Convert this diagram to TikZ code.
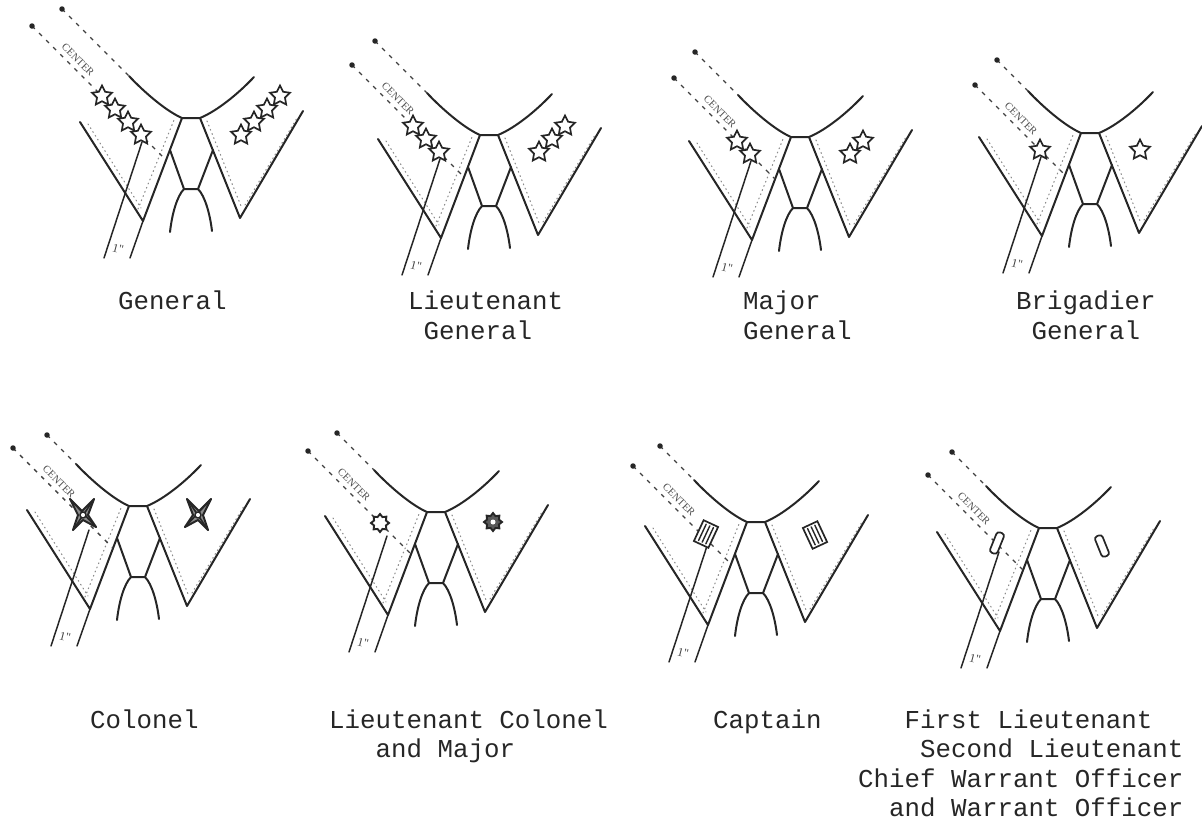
\documentclass[tikz,border=0pt]{standalone}
\usepackage{fontspec}
\setmonofont{Liberation Mono}
\newfontfamily\ctrfont{Liberation Serif}
\usetikzlibrary{shapes.geometric}
\tikzset{
  ln/.style={line width=2pt, draw=black!85, line cap=round, line join=round},
  thinln/.style={line width=1.5pt, draw=black!85, line cap=round},
  dsh/.style={line width=1.4pt, draw=black!75, dash pattern=on 4pt off 6pt},
  stitch/.style={line width=1.1pt, draw=black!45, dash pattern=on 0.9pt off 3.6pt, line cap=round},
  endpt/.style={circle, fill=black!85, inner sep=0pt, minimum size=5.5pt},
  ctr/.style={font=\ctrfont\fontsize{10.5}{10.5}\selectfont, rotate=-45, text=black!70, inner sep=0.5pt},
  inch/.style={font=\ctrfont\fontsize{12}{12}\selectfont, text=black!75, inner sep=0.5pt, rotate=-15},
  lbl/.style={font=\ttfamily\fontsize{25.8}{29.5}\selectfont, anchor=base west, inner sep=0pt, text=black!85},
  starins/.style={star, star points=5, star point ratio=2.0, draw=black!85, line width=1.7pt, fill=white, minimum size=21pt, inner sep=0pt},
  oakins/.style={star, star points=8, star point ratio=1.4, draw=black!85, line width=1.9pt, minimum size=18pt, inner sep=0pt},
  barsins/.style={rectangle, draw=black!85, line width=1.7pt, fill=white, minimum width=16pt, minimum height=23pt, inner sep=0pt},
  barins/.style={rectangle, rounded corners=3pt, draw=black!85, line width=1.7pt, fill=white, minimum width=8pt, minimum height=22pt, inner sep=0pt}
}
% #1 prefix, #2 length of upper dashed line, #3 length of centre line
\newcommand\inscollar[3]{%
  \coordinate (#1ls) at (-62,-42);
  \coordinate (#1ud) at ({-62-#2},{-42-#2});
  \coordinate (#1ce) at (-25,42);
  \coordinate (#1cd) at ({-25-#3},{42-#3});
  \coordinate (#1kl) at (-9,0);
  \coordinate (#1kr) at (9,0);
  \coordinate (#1vl) at (-48,103);
  \coordinate (#1vr) at (49,100);
  % stitching
  \draw[stitch] (-103,6) -- (-50,90);
  \draw[stitch] (-53,91) -- (-17,2);
  \draw[stitch] (16,3) -- (50,88);
  \draw[stitch] (54,87) -- (106,0);
  % neck line
  \draw[ln] (#1ls) .. controls (-47,-26) and (-25,-7) .. (#1kl) -- (#1kr) .. controls (26,-7) and (47,-24) .. (63,-41);
  % lapels
  \draw[ln] (-111,4) -- (#1vl) -- (#1kl);
  \draw[ln] (#1kr) -- (#1vr) -- (112,-7);
  % shirt collar and tie
  \draw[ln] (-21,32) -- (-7,71) -- (7,71) -- (22,32);
  \draw[ln] (-7,71) .. controls (-14,78) and (-19,96) .. (-21,114);
  \draw[ln] (7,71) .. controls (14,78) and (19,96) .. (21,113);
  % dashed guide lines
  \draw[dsh] (#1ud) -- (#1ls);
  \node[endpt] (#1du) at (#1ud) {};
  \draw[dsh] (#1cd) -- (#1ce);
  \node[endpt] (#1dc) at (#1cd) {};
  \node[ctr] (#1ctr) at ({-25-#3+46},{42-#3+34}) {CENTER};
  % one inch measurement
  \draw[thinln] (#1vl) -- (-61,140);
  \draw[thinln] (-49,24) -- (-87,140);
  \node[inch] (#1inch) at (-73,131) {1"};
}
\newcommand\insstars[2]{%
  \foreach \i in {1,...,#2} {
    \node[starins] (#1sl\i) at ({-50-13*(\i-1)},{17-13*(\i-1)}) {};
    \node[starins] (#1sr\i) at ({50+13*(\i-1)},{17-13*(\i-1)}) {};
  }
}
\newcommand\inseagleshape{%
  \draw[ln, line width=2pt, fill=black!45] (-13,-15) -- (-1,-3) -- (11,-15) -- (5,1) -- (13,13) -- (0,6) -- (-10,16) -- (-5,1) -- cycle;
  \draw[ln, line width=1.6pt] (-13,-15) -- (13,13) (11,-15) -- (-10,16);
  \draw[ln, line width=1.4pt, fill=white] (0,1) circle (3);
}
\begin{document}
\begin{tikzpicture}[x=1pt, y=-1pt]
\useasboundingbox (0,0) rectangle (1202,823);

% ---------- General ----------
\begin{scope}[shift={(191,118)}]
  \inscollar{a}{67}{134}
  \insstars{a}{4}
\end{scope}
% ---------- Lieutenant General ----------
\begin{scope}[shift={(489,135)}]
  \inscollar{b}{52}{112}
  \insstars{b}{3}
\end{scope}
% ---------- Major General ----------
\begin{scope}[shift={(800,137)}]
  \inscollar{c}{43}{101}
  \insstars{c}{2}
\end{scope}
% ---------- Brigadier General ----------
\begin{scope}[shift={(1090,133)}]
  \inscollar{d}{31}{90}
  \insstars{d}{1}
\end{scope}
% ---------- Colonel ----------
\begin{scope}[shift={(138,506)}]
  \inscollar{e}{29}{100}
  \begin{scope}[shift={(-55,8)}] \inseagleshape \end{scope}
  \begin{scope}[shift={(60,8)}, xscale=-1] \inseagleshape \end{scope}
\end{scope}
% ---------- Lieutenant Colonel and Major ----------
\begin{scope}[shift={(436,512)}]
  \inscollar{f}{37}{103}
  \node[oakins, fill=white] (fol) at (-56,11) {};
  \node[oakins, fill=black!65] (for) at (57,10) {};
  \node[circle, fill=white, inner sep=0pt, minimum size=5pt] (forc) at (57,10) {};
\end{scope}
% ---------- Captain ----------
\begin{scope}[shift={(756,522)}]
  \inscollar{g}{34}{98}
  \node[barsins, rotate=-25] (gbl) at (-50,12) {};
  \draw[thinln, line width=1.4pt, shift={(-50,12)}, rotate=-25] (-4,-9) -- (-4,9) (0,-9) -- (0,9) (4,-9) -- (4,9);
  \node[barsins, rotate=25] (gbr) at (59,13) {};
  \draw[thinln, line width=1.4pt, shift={(59,13)}, rotate=25] (-4,-9) -- (-4,9) (0,-9) -- (0,9) (4,-9) -- (4,9);
\end{scope}
% ---------- First Lieutenant etc. ----------
\begin{scope}[shift={(1048,528)}]
  \inscollar{h}{34}{95}
  \node[barins, rotate=-22] (hbl) at (-51,15) {};
  \node[barins, rotate=22] (hbr) at (54,18) {};
\end{scope}

% ---------- labels ----------
\node[lbl] (t1) at (118,309) {General};
\node[lbl] (t2a) at (408,309) {Lieutenant};
\node[lbl] (t2b) at (423.5,339) {General};
\node[lbl] (t3a) at (743,309) {Major};
\node[lbl] (t3b) at (743,339) {General};
\node[lbl] (t4a) at (1016,309) {Brigadier};
\node[lbl] (t4b) at (1031.5,339) {General};
\node[lbl] (t5) at (90,728) {Colonel};
\node[lbl] (t6a) at (329,728) {Lieutenant Colonel};
\node[lbl] (t6b) at (375.5,757.5) {and Major};
\node[lbl] (t7) at (713,728) {Captain};
\node[lbl] (t8a) at (904.5,728) {First Lieutenant};
\node[lbl] (t8b) at (920,757.5) {Second Lieutenant};
\node[lbl] (t8c) at (858,787) {Chief Warrant Officer};
\node[lbl] (t8d) at (889,816.5) {and Warrant Officer};
\end{tikzpicture}
\end{document}
